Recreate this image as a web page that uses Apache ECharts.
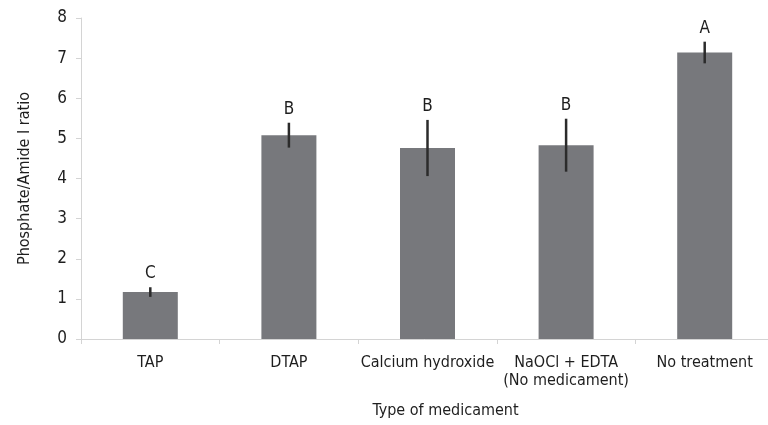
<!DOCTYPE html>
<html>
<head>
<meta charset="utf-8">
<script src="https://cdn.jsdelivr.net/npm/echarts@6/dist/echarts.min.js"></script>
<style>
  html, body { margin: 0; padding: 0; background: #ffffff; }
  #chart { width: 768px; height: 425px; }
</style>
</head>
<body>
<div id="chart"></div>
<script>
// Phosphate/Amide I ratio by medicament (mean, error, significance group)
const categories = ['TAP', 'DTAP', 'Calcium hydroxide', 'NaOCl + EDTA\n(No medicament)', 'No treatment'];
const means = [1.17, 5.08, 4.76, 4.83, 7.14];
const errors = [0.12, 0.31, 0.7, 0.66, 0.27];
const groups = ['C', 'B', 'B', 'B', 'A'];
const yTicks = [0, 1, 2, 3, 4, 5, 6, 7, 8];

const FONT = '"DejaVu Sans Condensed", "Liberation Sans Narrow", sans-serif';
const TEXT = '#1e1e1e';

const errData = means.map((m, i) => [i, m - errors[i], m + errors[i], groups[i]]);

const chart = echarts.init(document.getElementById('chart'), null, { renderer: 'canvas' });
chart.setOption({
  animation: false,
  // the plot runs slightly past the right edge of the canvas
  grid: { left: 81, width: 693, top: 18, height: 321, outerBoundsMode: 'none', containLabel: false },
  xAxis: {
    type: 'category',
    data: categories,
    name: 'Type of medicament',
    nameLocation: 'middle',
    nameGap: 64,
    nameTextStyle: { fontFamily: FONT, fontSize: 16, color: TEXT, padding: [0, 0, 0, 36] },
    axisLine: { lineStyle: { color: '#d4d4d4', width: 1 } },
    axisTick: { show: true, alignWithLabel: false, length: 5, lineStyle: { color: '#d4d4d4' } },
    axisLabel: { fontFamily: FONT, fontSize: 16, color: TEXT, margin: 15, lineHeight: 18, interval: 0 }
  },
  yAxis: {
    type: 'value',
    min: yTicks[0],
    max: yTicks[yTicks.length - 1],
    interval: 1,
    name: 'Phosphate/Amide I ratio',
    nameLocation: 'middle',
    nameGap: 48,
    nameRotate: 90,
    nameTextStyle: { fontFamily: FONT, fontSize: 16, color: TEXT },
    axisLine: { show: true, lineStyle: { color: '#d4d4d4', width: 1 } },
    axisTick: { show: true, length: 5, lineStyle: { color: '#d4d4d4' } },
    splitLine: { show: false },
    axisLabel: { fontFamily: FONT, fontSize: 17, color: TEXT, margin: 14 }
  },
  series: [
    {
      type: 'bar',
      data: means,
      barWidth: 55,
      itemStyle: { color: '#77787c' }
    },
    {
      type: 'custom',
      data: errData,
      z: 5,
      renderItem: function (params, api) {
        const x = api.value(0);
        const lo = api.coord([x, api.value(1)]);
        const hi = api.coord([x, api.value(2)]);
        return {
          type: 'group',
          children: [
            {
              type: 'line',
              shape: { x1: lo[0], y1: lo[1], x2: hi[0], y2: hi[1] },
              style: { stroke: '#2b2b2b', lineWidth: 2.5 }
            },
            {
              type: 'text',
              style: {
                x: hi[0],
                y: hi[1] - 5,
                text: api.value(3),
                textAlign: 'center',
                textVerticalAlign: 'bottom',
                fontFamily: FONT,
                fontSize: 17,
                fill: TEXT
              }
            }
          ]
        };
      }
    }
  ]
});
</script>
</body>
</html>
